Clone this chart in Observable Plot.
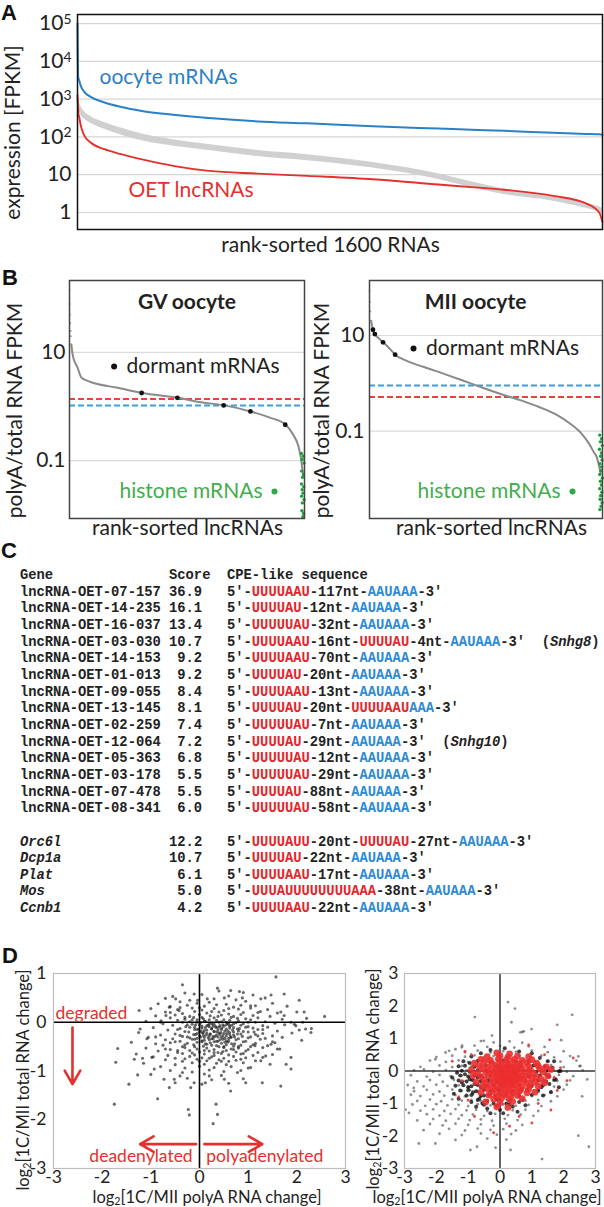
<!DOCTYPE html>
<html><head><meta charset="utf-8">
<script src="https://cdn.jsdelivr.net/npm/d3@7"></script>
<script src="https://cdn.jsdelivr.net/npm/@observablehq/plot@0.6"></script>
<style>
body{margin:0;background:#fff;}
#fig{position:relative;width:604px;height:1207px;overflow:hidden;font-family:Lato,sans-serif;color:#222;}
#fig svg{position:absolute;overflow:visible;max-width:none;}
.lab{position:absolute;font-family:"Liberation Sans",Arial,sans-serif;font-weight:bold;font-size:22px;line-height:1;color:#111;}
.t{position:absolute;white-space:nowrap;font-family:Lato,sans-serif;color:#222;line-height:1;font-size:16.5px;}
.t sub{font-size:0.65em;line-height:0;vertical-align:-0.18em;}
#tableC{position:absolute;left:20px;top:568px;margin:0;font-family:"Liberation Mono",monospace;font-size:13.8px;font-weight:bold;color:#222;}
#tableC div{height:16.67px;line-height:16.67px;white-space:pre;}
#tableC .r{color:#e3262b;} #tableC .b{color:#2d8ad3;}
</style></head>
<body><div id="fig"></div>
<script>
// ---------- DATA ----------
const RED = "#e5302e", BLUE = "#2a81c4";
// Panel A
const rankA = [0,1,2,3,5,10,20,40,80,130,200,300,400,550,700,900,1100,1200,1300,1450,1550,1590,1600];
const oocyteFPKM = [100000,12600,4000,3550,3160,2240,1580,1150,830,630,480,380,316,257,229,191,166,155,145,129,120,117,115];
const lncFPKM = [1260,790,560,400,340,200,112,71,48,35.5,25,16.6,12.6,10.7,9.3,7.6,5.5,4.7,4.0,2.75,1.74,1.0,0.56];
const grayHiFPKM = [1780,1510,1290,1120,891,661,479,347,245,174,117,82,63,43.7,33.9,21.1,10.6,6.53,4.22,2.75,1.78,1.41,1.29];
const grayLoFPKM = [708,661,617,562,490,380,302,229,162,115,78,56,43.7,30.2,23.4,15.0,7.5,4.62,2.99,2.0,1.29,1.02,0.93];
const aTickValues = [1,10,100,1000,10000,100000];
const aTickLabels = ["1","10","10^2","10^3","10^4","10^5"];
// Panel B - GV
const gvRank = [0.008,0.012,0.016,0.025,0.033,0.05,0.08,0.115,0.2,0.31,0.46,0.56,0.66,0.77,0.85,0.92,0.95,0.975,0.984,0.99,0.994];
const gvRatio = [14.1,10,8.1,6.3,5.4,3.47,2.95,2.63,2.24,1.78,1.45,1.20,1.05,0.81,0.63,0.46,0.31,0.178,0.115,0.076,0.055];
const gvTopRank = [0,0.001,0.002,0.003,0.005,0.006];
const gvTopRatio = [141,79,50,35,25,20];
const gvDormantRank = [0.307,0.459,0.656,0.77,0.918];
const gvDormantRatio = [1.78,1.45,1.05,0.81,0.46];
const gvHistoneRank = [0.987,0.995,0.99,0.998,0.988,0.996,0.992,0.987,0.997,0.99,0.994,0.988,0.998,0.991,0.989,0.996,0.993];
const gvHistoneRatio = [0.135,0.12,0.105,0.09,0.064,0.055,0.049,0.037,0.033,0.029,0.025,0.022,0.019,0.0165,0.0118,0.0105,0.0092];
const gvCutoffRed = 1.38, gvCutoffBlue = 1.04;
// Panel B - MII
const miiRank = [0.007,0.015,0.023,0.04,0.058,0.08,0.11,0.16,0.234,0.32,0.4,0.48,0.563,0.65,0.728,0.8,0.86,0.91,0.942,0.965,0.975,0.985,0.992];
const miiRatio = [20.4,13.2,10.7,8.7,7.2,5.75,3.98,2.95,2.19,1.58,1.15,0.83,0.60,0.44,0.32,0.224,0.145,0.089,0.055,0.035,0.029,0.019,0.0129];
const miiTopRank = [0,0.002,0.004];
const miiTopRatio = [87,50,32];
const miiDormantRank = [0.015,0.023,0.058,0.11];
const miiDormantRatio = [13.2,10.7,7.2,3.98];
const miiHistoneRank = [0.988,0.996,0.991,0.999,0.987,0.995,0.992,0.998,0.989,0.996,0.993,0.988,0.999,0.991,0.995,0.988,0.997,0.992,0.99,0.998,0.994,0.989];
const miiHistoneRatio = [0.083,0.07,0.06,0.05,0.042,0.035,0.03,0.025,0.021,0.018,0.015,0.0125,0.0105,0.009,0.0075,0.0063,0.0053,0.0045,0.0038,0.0032,0.0027,0.0023];
const miiCutoffRed = 0.52, miiCutoffBlue = 0.9;
// Panel C
const cGenes = ["lncRNA-OET-07-157","lncRNA-OET-14-235","lncRNA-OET-16-037","lncRNA-OET-03-030","lncRNA-OET-14-153","lncRNA-OET-01-013","lncRNA-OET-09-055","lncRNA-OET-13-145","lncRNA-OET-02-259","lncRNA-OET-12-064","lncRNA-OET-05-363","lncRNA-OET-03-178","lncRNA-OET-07-478","lncRNA-OET-08-341","Orc6l","Dcp1a","Plat","Mos","Ccnb1"];
const cScores = ["36.9","16.1","13.4","10.7","9.2","9.2","8.4","8.1","7.4","7.2","6.8","5.5","5.5","6.0","12.2","10.7","6.1","5.0","4.2"];
const cSeqs = [
 "5′-[UUUUAAU]-117nt-{AAUAAA}-3′","5′-[UUUUAU]-12nt-{AAUAAA}-3′","5′-[UUUUUAU]-32nt-{AAUAAA}-3′",
 "5′-[UUUUAAU]-16nt-[UUUUAU]-4nt-{AAUAAA}-3′","5′-[UUUUAAU]-70nt-{AAUAAA}-3′","5′-[UUUUAU]-20nt-{AAUAAA}-3′",
 "5′-[UUUUAAU]-13nt-{AAUAAA}-3′","5′-[UUUUAU]-20nt-[UUUUAAU]{AAA}-3′","5′-[UUUUUAU]-7nt-{AAUAAA}-3′",
 "5′-[UUUUAU]-29nt-{AAUAAA}-3′","5′-[UUUUUAU]-12nt-{AAUAAA}-3′","5′-[UUUUUAU]-29nt-{AAUAAA}-3′",
 "5′-[UUUUAU]-88nt-{AAUAAA}-3′","5′-[UUUUUAU]-58nt-{AAUAAA}-3′",
 "5′-[UUUUAUU]-20nt-[UUUUAU]-27nt-{AAUAAA}-3′","5′-[UUUUAU]-22nt-{AAUAAA}-3′","5′-[UUUUAAU]-17nt-{AAUAAA}-3′",
 "5′-[UUUAUUUUUUUUAAA]-38nt-{AAUAAA}-3′","5′-[UUUUAAU]-22nt-{AAUAAA}-3′"];
const cNotes = ["","","","Snhg8","","","","","","Snhg10","","","","","","","","",""];
// Panel D left: [x, y]
const dLeftPoints = [
[-0.3,0.6],[0.4,0.64],[0.9,0.61],[-0.55,0.53],[0.05,0.57],[0.6,0.54],[1.1,0.56],[-0.7,0.49],[-0.2,0.45],[0.3,0.48],[0.75,0.46],[1.35,0.5],
[-0.85,0.38],[-0.4,0.42],[-0.05,0.39],[0.2,0.41],[0.55,0.37],[0.95,0.43],[1.5,0.39],[-0.6,0.32],[-0.25,0.35],[0.1,0.33],[0.35,0.36],[0.7,0.31],[1.15,0.34],[1.8,0.33],
[-1.0,0.28],[-0.45,0.26],[-0.15,0.29],[0.05,0.25],[0.3,0.28],[0.5,0.24],[0.8,0.27],[1.05,0.29],[1.4,0.26],
[-0.7,0.21],[-0.35,0.18],[-0.1,0.22],[0.15,0.19],[0.4,0.21],[0.6,0.17],[0.9,0.2],[1.25,0.22],[1.6,0.19],[2.0,0.21],
[-0.9,0.13],[-0.5,0.15],[-0.2,0.12],[0.0,0.16],[0.22,0.13],[0.45,0.15],[0.7,0.12],[0.85,0.16],[1.1,0.14],[1.45,0.12],
[-0.6,0.09],[-0.3,0.06],[-0.12,0.1],[0.08,0.07],[0.3,0.09],[0.5,0.05],[0.65,0.1],[0.95,0.07],[1.2,0.09],[1.7,0.06],[2.2,0.08],
[-1.1,0.02],[-0.45,0.04],[-0.2,0.01],[-0.05,0.05],[0.12,0.02],[0.35,0.04],[0.55,0.0],[0.8,0.03],[1.05,0.05],[1.35,0.01],
[-0.75,-0.03],[-0.35,0.0],[-0.15,-0.04],[0.02,-0.01],[0.2,-0.03],[0.4,0.0],[0.6,-0.04],[0.75,-0.01],[0.9,-0.03],[1.15,0.0],[1.55,-0.02],[1.95,-0.04],
[-0.55,-0.06],[-0.28,-0.09],[-0.08,-0.05],[0.05,-0.08],[0.18,-0.06],[0.33,-0.09],[0.48,-0.05],[0.62,-0.08],[0.85,-0.06],[1.0,-0.09],[1.3,-0.07],[1.75,-0.05],
[-0.95,-0.11],[-0.4,-0.13],[-0.2,-0.1],[-0.02,-0.14],[0.12,-0.11],[0.25,-0.13],[0.4,-0.1],[0.55,-0.14],[0.7,-0.11],[0.82,-0.13],[1.1,-0.12],[1.4,-0.1],[2.3,-0.13],
[-0.65,-0.16],[-0.3,-0.19],[-0.1,-0.15],[0.03,-0.18],[0.15,-0.16],[0.3,-0.19],[0.45,-0.15],[0.58,-0.18],[0.68,-0.16],[0.9,-0.19],[1.2,-0.15],[1.6,-0.18],[2.05,-0.16],
[-1.25,-0.21],[-0.5,-0.24],[-0.22,-0.2],[-0.05,-0.23],[0.08,-0.21],[0.22,-0.24],[0.36,-0.2],[0.5,-0.23],[0.62,-0.21],[0.78,-0.24],[1.0,-0.2],[1.3,-0.23],[1.9,-0.22],
[-0.8,-0.26],[-0.35,-0.29],[-0.12,-0.25],[0.0,-0.28],[0.14,-0.26],[0.28,-0.29],[0.42,-0.25],[0.55,-0.28],[0.7,-0.26],[0.88,-0.29],[1.15,-0.25],[1.5,-0.28],
[-1.05,-0.31],[-0.55,-0.34],[-0.25,-0.3],[-0.05,-0.33],[0.1,-0.31],[0.25,-0.34],[0.38,-0.3],[0.52,-0.33],[0.65,-0.31],[0.8,-0.34],[1.05,-0.3],[1.35,-0.33],[1.7,-0.31],
[-0.7,-0.36],[-0.4,-0.39],[-0.15,-0.35],[0.05,-0.38],[0.2,-0.36],[0.35,-0.39],[0.48,-0.35],[0.6,-0.38],[0.75,-0.36],[0.95,-0.39],[1.25,-0.35],[2.1,-0.37],
[-1.4,-0.41],[-0.9,-0.44],[-0.5,-0.4],[-0.25,-0.43],[-0.05,-0.41],[0.12,-0.44],[0.3,-0.4],[0.45,-0.43],[0.58,-0.41],[0.72,-0.44],[0.9,-0.4],[1.15,-0.43],[1.55,-0.42],
[-0.75,-0.47],[-0.35,-0.5],[-0.12,-0.46],[0.08,-0.49],[0.25,-0.47],[0.4,-0.5],[0.55,-0.46],[0.7,-0.49],[0.85,-0.47],[1.05,-0.5],[1.4,-0.48],
[-1.1,-0.53],[-0.6,-0.56],[-0.3,-0.52],[-0.05,-0.55],[0.15,-0.53],[0.3,-0.56],[0.5,-0.52],[0.65,-0.55],[0.8,-0.53],[1.0,-0.56],[1.3,-0.52],[1.65,-0.55],
[-0.85,-0.59],[-0.45,-0.62],[-0.2,-0.58],[0.0,-0.61],[0.2,-0.59],[0.38,-0.62],[0.55,-0.58],[0.75,-0.61],[0.95,-0.59],[1.2,-0.62],
[-1.3,-0.65],[-0.65,-0.68],[-0.35,-0.64],[-0.1,-0.67],[0.1,-0.65],[0.3,-0.68],[0.45,-0.64],[0.6,-0.67],[0.85,-0.65],[1.1,-0.68],[1.5,-0.66],
[-0.95,-0.71],[-0.5,-0.74],[-0.2,-0.7],[0.05,-0.73],[0.25,-0.71],[0.5,-0.74],[0.7,-0.7],[0.95,-0.73],[1.3,-0.72],
[-0.7,-0.77],[-0.35,-0.8],[-0.05,-0.76],[0.15,-0.79],[0.4,-0.77],[0.6,-0.8],[0.85,-0.76],[1.15,-0.79],
[-1.15,-0.84],[-0.5,-0.87],[-0.15,-0.83],[0.1,-0.86],[0.35,-0.84],[0.55,-0.87],[0.9,-0.83],[1.45,-0.86],
[-0.8,-0.91],[-0.3,-0.94],[0.0,-0.9],[0.3,-0.93],[0.65,-0.91],[1.0,-0.94],[-0.6,-0.99],[-0.15,-1.02],[0.2,-0.98],[0.5,-1.01],[0.85,-0.99],
[-1.0,-1.07],[-0.4,-1.1],[0.1,-1.06],[0.45,-1.09],[-0.25,-1.15],[0.25,-1.18],[0.9,-1.16],[-0.5,-1.24],[0.05,-1.27],[0.6,-1.25],
[-0.05,0.0],[0.1,0.02],[0.25,-0.03],[0.45,0.01],[0.58,-0.02],[0.0,-0.05],[0.15,-0.07],[0.3,-0.04],[0.42,-0.07],[0.55,-0.05],[0.7,-0.03],
[-0.1,-0.1],[0.05,-0.12],[0.2,-0.09],[0.35,-0.11],[0.5,-0.08],[0.62,-0.12],[-0.05,-0.15],[0.1,-0.17],[0.25,-0.14],[0.38,-0.16],[0.52,-0.18],[0.78,-0.14],
[0.0,-0.2],[0.15,-0.22],[0.3,-0.19],[0.44,-0.21],[0.56,-0.23],[0.7,-0.2],[-0.08,-0.25],[0.08,-0.27],[0.22,-0.24],[0.35,-0.26],[0.48,-0.28],[0.62,-0.25],
[0.02,-0.3],[0.18,-0.32],[0.32,-0.29],[0.45,-0.31],[0.6,-0.33],[0.72,-0.3],[-0.1,-0.35],[0.1,-0.37],[0.28,-0.34],[0.42,-0.36],[0.55,-0.38],
[0.05,-0.4],[0.22,-0.42],[0.38,-0.39],[0.52,-0.41],
[-0.3,0.1],[-0.15,0.05],[0.05,0.1],[0.2,0.05],[0.38,0.12],[0.62,0.04],[0.78,0.08],[1.0,0.0],
[-0.45,-0.15],[-0.25,-0.05],[0.28,-0.08],[0.46,-0.12],[0.66,-0.06],[0.8,-0.18],[0.95,-0.1],[1.12,-0.2],
[-0.4,-0.27],[-0.2,-0.32],[0.06,-0.22],[0.2,-0.28],[0.4,-0.22],[0.64,-0.3],[0.85,-0.24],[1.0,-0.32],[1.2,-0.28],
[-0.6,-0.42],[-0.3,-0.46],[-0.1,-0.5],[0.15,-0.45],[0.35,-0.48],[0.5,-0.5],[0.66,-0.44],[0.8,-0.5],[1.1,-0.46],
[-0.45,-0.58],[-0.15,-0.63],[0.1,-0.58],[0.3,-0.62],[0.48,-0.6],[0.7,-0.56],[0.9,-0.64],
[-0.3,-0.75],[0.0,-0.8],[0.2,-0.74],[0.45,-0.8],[0.75,-0.78],
[-0.6,0.2],[-0.4,0.3],[0.0,0.3],[0.25,0.22],[0.6,0.28],[0.85,0.35],[1.2,0.2],[-0.8,0.0],[1.3,-0.15],[1.5,-0.4],[-0.9,-0.3],[-0.7,-0.55],
[-0.35,0.77],[1.57,0.93],[0.37,0.7],[0.64,0.65],[0.82,0.63],[1.74,0.58],[1.47,0.56],[2.05,0.45],[2.15,0.21],[2.57,0.12],[-1.24,0.24],[-0.79,0.03],
[1.67,0.21],[2.29,-0.21],[2.18,-0.14],[1.88,-0.72],[1.78,-0.86],[1.88,-0.96],[1.67,-1.31],[1.29,-1.24],[0.64,-1.41],[0.34,-1.68],[0.37,-1.89],[0.28,-2.08],
[-0.23,-1.79],[-0.21,-1.9],[-0.86,-1.57],[-1.75,-1.68],[-1.45,-1.27],[-1.27,-1.08],[-1.68,-0.54],[-1.72,-0.82],[-1.22,-0.14],[-1.08,-0.34],[-1.34,-0.76],
[-1.17,-0.74],[-0.98,-0.72],[-0.93,-0.96],[-0.73,-1.17],[-0.62,-1.34],[-0.52,-1.17],[-0.35,-1.03],[-0.18,-1.34],[-0.11,-1.24],[0.12,-1.24],[0.2,-1.1],
[0.51,-1.17],[0.78,-1.03],[0.95,-1.24],[1.05,-0.93],[1.26,-0.79],[1.36,-0.69],[1.14,-0.48],[1.47,-0.45],[1.6,-0.55],[1.98,-0.07],[1.88,0.0],[1.74,0.14],
[2.12,0.0],[1.26,0.48],[1.05,0.34],[0.88,0.5],[0.51,0.5],[0.16,0.48],[-0.04,0.45],[-0.11,0.58],[-0.49,0.48],[-0.62,0.31],[-0.42,0.24],[-0.69,0.14]];
const dLeftArrows = [{x1:-2.61,y1:-0.11,x2:-2.61,y2:-1.27},{x1:-0.07,y1:-2.5,x2:-1.22,y2:-2.5},{x1:0.1,y1:-2.5,x2:1.29,y2:-2.5}];
const dLeftNotes = [{x:-2.22,y:0.18,text:"degraded",anchor:"middle"},{x:-0.14,y:-2.76,text:"deadenylated",anchor:"end"},{x:0.14,y:-2.76,text:"polyadenylated",anchor:"start"}];
// Panel D right
const dRightGray = [
[-0.6,0.92],[-0.2,0.88],[0.3,0.91],[0.7,0.87],[-1.2,0.73],[-0.8,0.78],[-0.4,0.74],[0.0,0.77],[0.45,0.72],[0.9,0.76],[1.4,0.74],
[-1.6,0.62],[-1.1,0.58],[-0.7,0.63],[-0.3,0.57],[0.1,0.61],[0.5,0.59],[1.0,0.63],[1.5,0.58],[2.0,0.61],
[-2.0,0.43],[-1.5,0.47],[-1.1,0.44],[-0.8,0.48],[-0.5,0.42],[-0.2,0.46],[0.2,0.43],[0.6,0.48],[0.95,0.44],[1.3,0.47],[1.7,0.42],[2.2,0.46],
[-2.2,0.32],[-1.7,0.28],[-1.3,0.33],[-1.0,0.27],[-0.7,0.31],[-0.4,0.29],[-0.1,0.33],[0.3,0.27],[0.7,0.32],[1.1,0.28],[1.5,0.31],[1.9,0.29],[2.4,0.32],
[-2.5,0.13],[-1.9,0.17],[-1.5,0.12],[-1.2,0.16],[-0.9,0.14],[-0.6,0.18],[-0.3,0.12],[0.0,0.16],[0.4,0.13],[0.8,0.17],[1.2,0.14],[1.6,0.18],[2.0,0.12],[2.5,0.15],
[-2.7,0.02],[-2.1,-0.02],[-1.7,0.03],[-1.35,-0.01],[-1.05,0.02],[-0.8,-0.03],[-0.55,0.01],[-0.25,-0.02],[0.1,0.03],[0.5,-0.01],[0.9,0.02],[1.3,-0.03],[1.7,0.01],[2.1,-0.02],[2.6,0.02],
[-2.8,-0.13],[-2.3,-0.17],[-1.9,-0.12],[-1.55,-0.16],[-1.2,-0.14],[-0.95,-0.18],[-0.7,-0.12],[-0.45,-0.16],[0.2,-0.13],[0.7,-0.17],[1.1,-0.14],[1.5,-0.18],[1.85,-0.12],[2.3,-0.16],
[-2.6,-0.32],[-2.2,-0.28],[-1.8,-0.33],[-1.45,-0.27],[-1.15,-0.31],[-0.9,-0.29],[-0.65,-0.33],[-0.4,-0.27],[0.05,-0.31],[0.6,-0.29],[1.0,-0.33],[1.4,-0.27],[1.8,-0.31],[2.2,-0.29],
[-2.9,-0.43],[-2.4,-0.47],[-2.0,-0.42],[-1.65,-0.46],[-1.3,-0.44],[-1.0,-0.48],[-0.75,-0.42],[-0.5,-0.46],[0.3,-0.43],[0.9,-0.47],[1.3,-0.44],[1.7,-0.48],[2.1,-0.42],
[-2.7,-0.62],[-2.3,-0.58],[-1.9,-0.63],[-1.5,-0.57],[-1.2,-0.61],[-0.95,-0.59],[-0.7,-0.63],[0.1,-0.57],[0.7,-0.61],[1.2,-0.59],[1.6,-0.63],[2.0,-0.57],
[-2.8,-0.73],[-2.5,-0.77],[-2.1,-0.72],[-1.75,-0.76],[-1.4,-0.74],[-1.1,-0.78],[-0.85,-0.72],[-0.6,-0.76],[0.4,-0.73],[1.0,-0.77],[1.4,-0.74],[1.8,-0.78],
[-2.6,-0.92],[-2.2,-0.88],[-1.85,-0.93],[-1.5,-0.87],[-1.2,-0.91],[-0.9,-0.89],[-0.6,-0.93],[0.2,-0.87],[0.8,-0.91],[1.2,-0.89],[1.6,-0.93],
[-2.75,-1.03],[-2.35,-1.07],[-2.0,-1.02],[-1.65,-1.06],[-1.3,-1.04],[-1.0,-1.08],[-0.7,-1.02],[-0.3,-1.06],[0.1,-1.03],[0.5,-1.07],[0.9,-1.04],[1.3,-1.08],
[-2.5,-1.22],[-2.1,-1.18],[-1.75,-1.23],[-1.4,-1.17],[-1.05,-1.21],[-0.75,-1.19],[-0.4,-1.23],[0.0,-1.17],[0.4,-1.21],[0.8,-1.19],[1.2,-1.23],
[-2.3,-1.33],[-1.9,-1.37],[-1.55,-1.32],[-1.2,-1.36],[-0.85,-1.34],[-0.5,-1.38],[-0.15,-1.32],[0.25,-1.36],[0.65,-1.34],[1.05,-1.38],
[-2.6,-1.52],[-2.1,-1.48],[-1.7,-1.53],[-1.3,-1.47],[-0.95,-1.51],[-0.6,-1.49],[-0.25,-1.53],[0.15,-1.47],[0.55,-1.51],
[-2.2,-1.63],[-1.8,-1.67],[-1.4,-1.62],[-1.0,-1.66],[-0.6,-1.64],[-0.2,-1.68],[0.2,-1.62],[0.7,-1.66],
[-2.4,-1.82],[-1.6,-1.78],[-1.1,-1.83],[-0.7,-1.77],[-0.3,-1.81],[0.1,-1.79],[0.5,-1.83],[-1.9,-1.93],[-1.2,-1.97],[-0.6,-1.92],[-0.1,-1.96],[0.35,-1.94],
[-1.4,-2.12],[-0.4,-2.08],[0.2,-2.11],
[0.25,2.12],[0.47,1.92],[-0.79,1.66],[0.36,1.5],[1.8,1.42],[2.27,1.73],[0.99,1.29],[0.64,1.19],[0.75,1.22],[0.7,1.2],[1.92,0.95],[2.46,0.45],[2.53,0.16],
[2.74,-0.26],[2.58,-0.78],[2.46,-1.99],[2.79,-2.33],[1.32,-2.71],[0.33,-2.43],[-0.14,-2.36],[-0.72,-2.33],[-0.93,-2.43],[-2.03,-2.23],[-2.55,-2.23],
[-2.86,-1.29],[-2.97,-1.19],[-2.71,-0.52],[-2.39,0.05],[-2.03,0.36],[-1.71,0.57],[-1.4,0.67],[-1.19,0.78],[-0.51,0.93],[-0.25,1.09]];
const dRightBlackCore = [
[-0.7,0.31],[-0.3,0.28],[0.1,0.32],[0.5,0.29],[0.9,0.3],[-1.1,0.16],[-0.8,0.13],[-0.45,0.17],[-0.1,0.14],[0.25,0.16],[0.65,0.12],[1.05,0.17],[1.4,0.14],
[-1.2,0.01],[-0.95,-0.02],[-0.7,0.02],[-0.4,-0.01],[0.0,0.02],[0.35,-0.02],[0.75,0.01],[1.15,-0.02],[1.5,0.02],[1.85,-0.01],
[-1.25,-0.14],[-1.0,-0.17],[-0.8,-0.13],[-0.6,-0.16],[-0.3,-0.14],[0.1,-0.17],[0.5,-0.13],[0.9,-0.16],[1.25,-0.14],[1.55,-0.17],
[-1.3,-0.29],[-1.05,-0.32],[-0.85,-0.28],[-0.6,-0.31],[-0.35,-0.29],[-0.1,-0.32],[0.3,-0.28],[0.8,-0.31],[1.2,-0.29],[1.45,-0.32],[1.7,-0.28],
[-1.15,-0.44],[-0.9,-0.47],[-0.7,-0.43],[-0.45,-0.46],[-0.2,-0.44],[0.15,-0.47],[0.6,-0.43],[1.0,-0.46],[1.35,-0.44],
[-1.0,-0.59],[-0.75,-0.62],[-0.5,-0.58],[-0.3,-0.61],[-0.05,-0.59],[0.4,-0.62],[0.85,-0.58],[1.2,-0.61],
[-0.9,-0.74],[-0.6,-0.77],[-0.35,-0.73],[-0.15,-0.76],[0.2,-0.74],[0.6,-0.77],[1.0,-0.73],[-0.7,-0.89],[-0.4,-0.92],[-0.1,-0.88],[0.3,-0.91],[0.7,-0.89],
[-0.5,-1.04],[-0.1,-1.07],[0.3,-1.03],
[-1.5,-0.2],[-1.4,-0.45],[-1.35,-0.05],[-1.25,-0.6],[-1.2,-0.35],[-1.1,-0.1],[-1.05,-0.75],[-1.0,-0.5],[-0.95,-0.25],[-0.9,-0.95],[-0.85,-0.65],[-0.8,-0.4],
[-0.75,-1.1],[-0.65,-0.85],[-0.6,-0.5],[-0.55,-1.0],[-1.3,0.15],[-1.15,0.3],[-0.95,0.25],[-1.45,-0.7],[-1.3,-0.85],[-0.7,-0.2],[-0.5,-0.75],
[-0.4,-1.15],[-0.2,-1.0],[0.0,-1.2],[0.2,-1.0],[0.4,-1.1],[0.6,-0.95],[0.8,-1.05],[0.55,-1.25],[0.1,-1.3],[-0.3,-1.3],
[1.3,-0.5],[1.45,-0.1],[1.55,-0.4],[1.65,0.1],[1.75,-0.25],[1.6,-0.65],[1.35,-0.75],[1.85,-0.5],[1.5,0.3],[1.25,0.4],[1.9,0.0],[1.7,0.3],
[-0.6,0.55],[-0.3,0.65],[0.15,0.7],[0.6,0.6],[1.0,0.55],[-0.9,0.45]];
const dRightRed = [
[-0.1,0.56],[0.3,0.53],[-0.4,0.44],[0.0,0.47],[0.25,0.43],[0.55,0.46],[0.9,0.44],
[-0.6,0.36],[-0.3,0.33],[-0.05,0.37],[0.2,0.34],[0.45,0.36],[0.7,0.33],[1.0,0.35],
[-0.8,0.24],[-0.5,0.27],[-0.25,0.23],[0.0,0.26],[0.2,0.24],[0.4,0.27],[0.6,0.23],[0.85,0.26],[1.15,0.24],
[-0.65,0.16],[-0.4,0.13],[-0.15,0.17],[0.05,0.14],[0.25,0.16],[0.45,0.13],[0.65,0.17],[0.9,0.14],[1.2,0.16],[1.45,0.13],
[-0.9,0.04],[-0.55,0.07],[-0.3,0.03],[-0.1,0.06],[0.1,0.04],[0.3,0.07],[0.5,0.03],[0.7,0.06],[0.95,0.04],[1.25,0.07],[1.6,0.05],
[-0.7,-0.06],[-0.45,-0.03],[-0.2,-0.07],[0.0,-0.04],[0.2,-0.06],[0.4,-0.03],[0.6,-0.07],[0.8,-0.04],[1.05,-0.06],[1.35,-0.03],
[-0.85,-0.14],[-0.6,-0.17],[-0.35,-0.13],[-0.1,-0.16],[0.1,-0.14],[0.3,-0.17],[0.5,-0.13],[0.7,-0.16],[0.9,-0.14],[1.15,-0.17],[1.5,-0.15],
[-0.5,-0.26],[-0.25,-0.23],[-0.05,-0.27],[0.15,-0.24],[0.35,-0.26],[0.55,-0.23],[0.75,-0.27],[1.0,-0.24],[1.3,-0.26],
[-0.75,-0.34],[-0.45,-0.37],[-0.2,-0.33],[0.0,-0.36],[0.2,-0.34],[0.4,-0.37],[0.6,-0.33],[0.85,-0.36],[1.1,-0.34],[1.4,-0.36],
[-0.55,-0.46],[-0.3,-0.43],[-0.1,-0.47],[0.1,-0.44],[0.3,-0.46],[0.5,-0.43],[0.7,-0.47],[0.95,-0.44],[1.2,-0.46],
[-0.4,-0.54],[-0.15,-0.57],[0.05,-0.53],[0.25,-0.56],[0.45,-0.54],[0.65,-0.57],[0.9,-0.55],
[-0.6,-0.66],[-0.25,-0.63],[0.0,-0.67],[0.2,-0.64],[0.4,-0.66],[0.6,-0.63],[0.85,-0.67],[1.1,-0.65],
[-0.35,-0.74],[-0.1,-0.77],[0.15,-0.73],[0.35,-0.76],[0.55,-0.75],[-0.2,-0.86],[0.05,-0.83],[0.3,-0.87],[0.7,-0.85],[-0.45,-0.95],[0.0,-0.97],[0.4,-0.94],
[-0.1,-1.1],[0.25,-1.12],
[0.1,-0.09],[0.3,-0.1],[0.5,-0.09],[-0.05,-0.2],[0.2,-0.2],[0.42,-0.21],[0.62,-0.2],[0.05,-0.3],[0.25,-0.31],[0.45,-0.3],[0.15,0.08],[0.35,0.1],[0.55,0.09],
[-0.15,0.0],[0.12,-0.4],[0.38,-0.41]];
const dRightRedOutliers = [[1.56,0.96],[1.9,0.1],[2.1,-0.3],[-1.3,-0.8],[-1.5,0.3],[0.6,-1.4],[-0.2,-1.9],[1.6,-1.2],[2.3,0.4],[-1.1,0.6],[0.9,0.8],[1.0,-1.6],[-0.8,-1.4],
[0.3,-1.7],[1.4,0.5],[-1.0,-0.9],[1.8,-0.6],[-1.2,-0.3],[1.7,-0.2],[-0.9,0.5],[1.2,-1.0]];
const dTicks = [-3,-2,-1,0,1,2,3];
const dLeftYTicks = [-3,-2,-1,0,1];

// ---------- HELPERS ----------
const fig = document.getElementById("fig");
function place(el, left, top){ el.style.left = left + "px"; el.style.top = top + "px"; fig.append(el); return el; }
function html(cls, content, left, top, css){ const d = document.createElement("div"); d.className = cls; d.innerHTML = content; if (css) d.style.cssText += css; return place(d, left, top); }
const style = (fs) => ({fontFamily: "Lato, sans-serif", fontSize: fs + "px", color: "#222", background: "transparent", overflow: "visible"});
const T = (s, o) => Plot.text([s], {text: d => d, lineAnchor: "middle", textAnchor: "middle", ...o});

// ---------- PANEL A ----------
const aTable = rankA.map((r, i) => ({r, oocyte: oocyteFPKM[i], lnc: lncFPKM[i], hi: grayHiFPKM[i], lo: grayLoFPKM[i]}));
const plotA = Plot.plot({
  width: 604, height: 262, marginLeft: 77, marginRight: 2, marginTop: 14, marginBottom: 33,
  style: style(21),
  x: {domain: [0, 1600], axis: null},
  y: {type: "log", domain: [0.355, 174000]},
  marks: [
    Plot.gridY(aTickValues, {stroke: "#d6d6d6", strokeOpacity: 1, strokeWidth: 1.2}),
    Plot.areaY(aTable, {x: "r", y1: "lo", y2: "hi", fill: "#d0d0d0", curve: "monotone-x"}),
    Plot.line(aTable, {x: "r", y: "lnc", stroke: RED, strokeWidth: 1.9, curve: "monotone-x"}),
    Plot.line(aTable, {x: "r", y: "oocyte", stroke: BLUE, strokeWidth: 2, curve: "monotone-x"}),
    Plot.frame({stroke: "#111", strokeWidth: 1.5}),
    Plot.axisY(aTickValues, {tickSize: 0, tickPadding: 6, label: null, tickFormat: d => aTickLabels[aTickValues.indexOf(d)]}),
    T("oocyte mRNAs", {frameAnchor: "top-left", dx: 22, dy: 63, textAnchor: "start", fill: BLUE}),
    T("OET lncRNAs", {frameAnchor: "top-left", dx: 51, dy: 176, textAnchor: "start", fill: RED}),
    T("rank-sorted 1600 RNAs", {frameAnchor: "bottom", dx: -9.5, dy: 16}),
    T("expression [FPKM]", {frameAnchor: "left", dx: -64, dy: 10.5, rotate: -90})
  ]
});
place(plotA, 0, 0);
d3.select(plotA).selectAll('g[aria-label="y-axis tick label"] text').each(function() {
  const t = this.textContent;
  if (t.includes("^")) {
    const [b, e] = t.split("^");
    this.textContent = b;
    d3.select(this).append("tspan").attr("dy", "-0.45em").attr("font-size", "0.66em").text(e);
  }
});

// ---------- PANEL B ----------
function panelB(o) {
  const curve = o.rank.map((x, i) => ({x, y: o.ratio[i]}));
  const top = o.topRank.map((x, i) => ({x, y: o.topRatio[i]}));
  const dorm = o.dormRank.map((x, i) => ({x, y: o.dormRatio[i]}));
  const hist = o.histRank.map((x, i) => ({x, y: o.histRatio[i]}));
  return Plot.plot({
    width: o.width, height: 262, marginLeft: o.ml, marginRight: o.mr, marginTop: 2, marginBottom: 22,
    style: style(21),
    x: {domain: [0, 1], axis: null},
    y: {type: "log", domain: o.domain},
    marks: [
      Plot.gridY([0.1, 10], {stroke: "#dadada", strokeOpacity: 1, strokeWidth: 1.2}),
      Plot.ruleY([o.cutBlue], {stroke: "#3a9ee4", strokeWidth: 2, strokeDasharray: "6,3"}),
      Plot.ruleY([o.cutRed], {stroke: "#e8413f", strokeWidth: 2, strokeDasharray: "6,3"}),
      Plot.dot(top, {x: "x", y: "y", r: 0.9, fill: "#9a9a9a"}),
      Plot.line(curve, {x: "x", y: "y", stroke: "#8a8a8a", strokeWidth: 2, curve: "monotone-x"}),
      Plot.dot(dorm, {x: "x", y: "y", r: 2.4, fill: "#111"}),
      Plot.dot(hist, {x: "x", y: "y", r: 1.7, fill: "#1e9e3c"}),
      Plot.frame({stroke: "#444", strokeWidth: 1.5}),
      Plot.axisY([0.1, 10], {tickSize: 0, tickPadding: o.tp, label: null, tickFormat: d => d === 10 ? "10" : "0.1"}),
      T(o.title, {frameAnchor: "top", dx: o.titleDx, dy: 22, fontWeight: "bold"}),
      Plot.dot([0], {frameAnchor: "top-left", dx: o.legDotDx, dy: o.legDy, r: 3, fill: "#111"}),
      T("dormant mRNAs", {frameAnchor: "top-left", dx: o.legDotDx + 12.5, dy: o.legDy, textAnchor: "start"}),
      T("histone mRNAs", {frameAnchor: "top-left", dx: o.histDx, dy: 211, textAnchor: "end", fill: "#43ad4d"}),
      Plot.dot([0], {frameAnchor: "top-left", dx: o.histDx + 12, dy: 211, r: 3, fill: "#2fa845"}),
      T("rank-sorted lncRNAs", {frameAnchor: "bottom", dx: o.xlabDx, dy: 10}),
      T("polyA/total RNA FPKM", {frameAnchor: "left", dx: o.ylabDx, dy: 11, rotate: -90})
    ]
  });
}
const plotGV = panelB({width: 310, ml: 69, mr: 6, domain: [0.0085, 214], rank: gvRank, ratio: gvRatio, topRank: gvTopRank, topRatio: gvTopRatio,
  dormRank: gvDormantRank, dormRatio: gvDormantRatio, histRank: gvHistoneRank, histRatio: gvHistoneRatio, cutRed: gvCutoffRed, cutBlue: gvCutoffBlue,
  tp: 4, title: "GV oocyte", titleDx: 0, legDotDx: 44.6, legDy: 86, histDx: 193, xlabDx: 0.5, ylabDx: -54});
place(plotGV, 0, 278);
const plotMII = panelB({width: 294, ml: 59, mr: 2, domain: [0.0015, 141], rank: miiRank, ratio: miiRatio, topRank: miiTopRank, topRatio: miiTopRatio,
  dormRank: miiDormantRank, dormRatio: miiDormantRatio, histRank: miiHistoneRank, histRatio: miiHistoneRatio, cutRed: miiCutoffRed, cutBlue: miiCutoffBlue,
  tp: 5, title: "MII oocyte", titleDx: -10.5, legDotDx: 44, legDy: 68, histDx: 191, xlabDx: 5.5, ylabDx: -47.5});
place(plotMII, 310, 278);

// ---------- PANEL C ----------
function seqHTML(s) { return s.replace(/\[([A-Z]+)\]/g, '<span class="r">$1</span>').replace(/\{([A-Z]+)\}/g, '<span class="b">$1</span>'); }
const cLines = ["Gene".padEnd(18) + "Score  CPE-like sequence"];
cGenes.forEach((g, i) => {
  if (i === 14) cLines.push("");
  const name = i >= 14 ? `<i>${g}</i>` + " ".repeat(18 - g.length) : g.padEnd(18);
  cLines.push(name + cScores[i].padStart(4) + "   " + seqHTML(cSeqs[i]) + (cNotes[i] ? `  (<i>${cNotes[i]}</i>)` : ""));
});
const tableC = document.createElement("div");
tableC.id = "tableC";
tableC.innerHTML = cLines.map(l => `<div>${l || "&nbsp;"}</div>`).join("");
fig.append(tableC);

// ---------- PANEL D ----------
function panelD(o) {
  const dots = o.layers.map(l => Plot.dot(l.data, {x: d => d[0], y: d => d[1], r: l.r, fill: l.fill, fillOpacity: l.op}));
  const rules = [Plot.ruleX([0], {stroke: o.axisColor, strokeWidth: o.axisWidth}), Plot.ruleY([0], {stroke: o.axisColor, strokeWidth: o.axisWidth})];
  const marks = [
    ...(o.rulesBelow ? [...rules, ...dots] : [...dots, ...rules]),
    Plot.frame({stroke: "#bdbdbd", strokeWidth: 1.2}),
    Plot.axisX(dTicks, {tickSize: 0, tickPadding: 2, label: null, tickFormat: d => String(d)}),
    Plot.axisY(o.yTicks, {tickSize: 0, tickPadding: o.ytp, label: null, tickFormat: d => String(d)})
  ];
  if (o.arrows) marks.push(Plot.arrow(o.arrows, {x1: "x1", y1: "y1", x2: "x2", y2: "y2", stroke: RED, strokeWidth: 2.6, headLength: 9}));
  if (o.notes) o.notes.forEach(n => marks.push(Plot.text([n], {x: "x", y: "y", text: "text", textAnchor: n.anchor, lineAnchor: "middle", fill: RED, fontSize: 17.5})));
  return Plot.plot({
    width: o.width, height: 255, marginLeft: o.ml, marginRight: o.mr, marginTop: 23, marginBottom: 37,
    style: style(17.5),
    x: {domain: [-3, 3]},
    y: {domain: o.yDomain},
    marks
  });
}
const plotDL = panelD({width: 352, ml: 53, mr: 7, yDomain: [-3, 1], yTicks: dLeftYTicks, ytp: 7, axisColor: "#000", axisWidth: 1.6, rulesBelow: false,
  layers: [{data: dLeftPoints, r: 1.55, fill: "#222", op: 0.68}], arrows: dLeftArrows, notes: dLeftNotes});
place(plotDL, 0, 950);
const plotDR = panelD({width: 250, ml: 52, mr: 7, yDomain: [-3, 3], yTicks: dTicks, ytp: 6, axisColor: "#666", axisWidth: 2, rulesBelow: true,
  layers: [{data: dRightGray, r: 1.4, fill: "#333", op: 0.55}, {data: dRightBlackCore, r: 2.0, fill: "#111", op: 0.8},
           {data: dRightRed, r: 3.4, fill: "#ec2f2f", op: 0.9}, {data: dRightRedOutliers, r: 1.4, fill: "#ec2f2f", op: 0.9}]});
place(plotDR, 352, 950);

// axis titles with subscripts
const dX = 'log<sub>2</sub>[1C/MII polyA RNA change]';
const dY = 'log<sub>2</sub>[1C/MII total RNA change]';
html("t", dX, 207, 1197, "transform:translate(-50%,-50%);");
html("t", dX, 487, 1197, "transform:translate(-50%,-50%);");
html("t", dY, 23, 1080, "transform:translate(-50%,-50%) rotate(-90deg);");
html("t", dY, 372.5, 1079, "transform:translate(-50%,-50%) rotate(-90deg);");

// panel letters
html("lab", "A", 1, 2);
html("lab", "B", 2, 267);
html("lab", "C", 1, 540);
html("lab", "D", 2, 945);
</script>
</body></html>
